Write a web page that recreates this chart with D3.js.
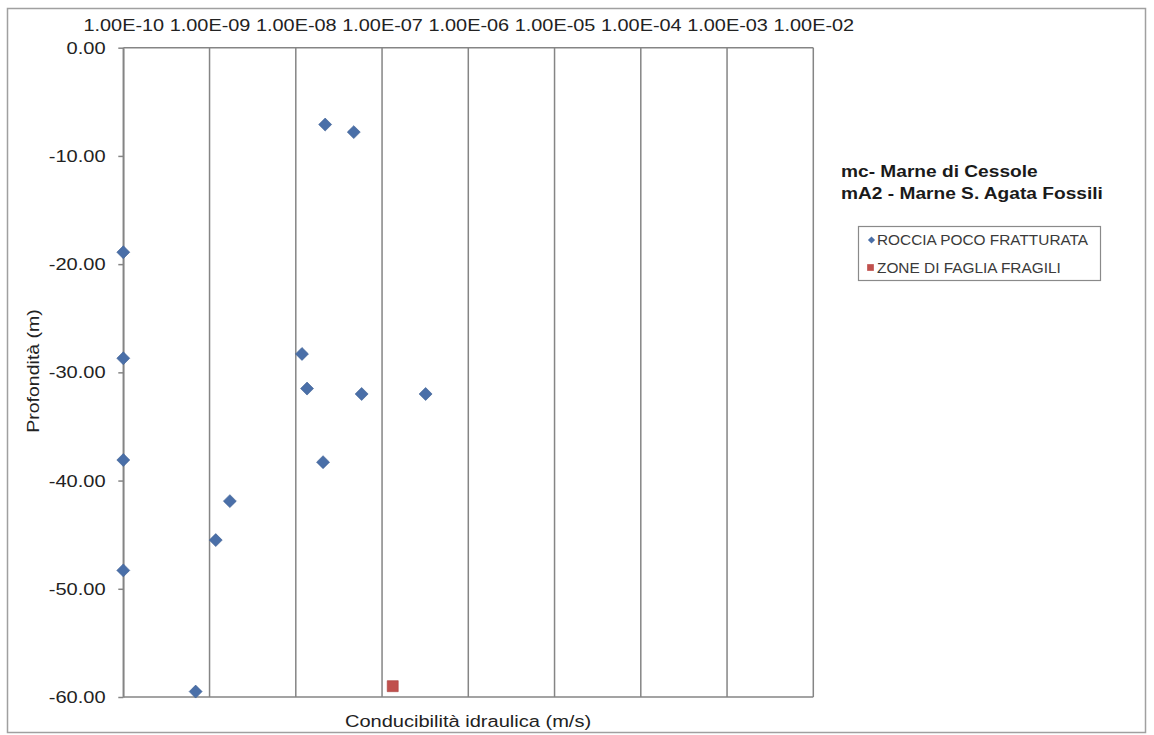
<!DOCTYPE html>
<html>
<head>
<meta charset="utf-8">
<script src="https://cdn.jsdelivr.net/npm/d3@7"></script>
<style>
  html, body { margin: 0; padding: 0; background: #fff; }
  svg { display: block; font-family: "Liberation Sans", Arial, sans-serif; }
</style>
</head>
<body>
<svg id="chart" width="1154" height="735"></svg>
<script>
// Hydraulic conductivity (m/s) vs depth (m)
const rocciaK     = [2.19e-8, 4.7e-8, 1e-10, 1e-10, 1.18e-8, 1.35e-8, 5.8e-8, 3.2e-7, 1e-10, 2.07e-8, 1.72e-9, 1.18e-9, 1e-10, 6.9e-10];
const rocciaDepth = [-7.1, -7.8, -18.9, -28.7, -28.3, -31.5, -32.0, -32.0, -38.1, -38.3, -41.9, -45.5, -48.3, -59.5];
const fagliaK     = [1.33e-7];
const fagliaDepth = [-59.0];

const xTicks = [1e-10, 1e-9, 1e-8, 1e-7, 1e-6, 1e-5, 1e-4, 1e-3, 1e-2];
const yTicks = [0, -10, -20, -30, -40, -50, -60];

const seriesNames = ["ROCCIA POCO FRATTURATA", "ZONE DI FAGLIA FRAGILI"];
const titleLines = ["mc- Marne di Cessole", "mA2 - Marne S. Agata Fossili"];
const xTitle = "Conducibilità idraulica (m/s)";
const yTitle = "Profondità (m)";

const blue = "#4a6fa8", red = "#c0504d", grid = "#858585";

const svg = d3.select("#chart");

// Outer chart frame
svg.append("rect")
  .attr("x", 7.5).attr("y", 8.5).attr("width", 1138).attr("height", 724)
  .attr("fill", "#fff").attr("stroke", "#a0a0a0").attr("stroke-width", 1.5);

const x = d3.scaleLog().domain([1e-10, 1e-2]).range([123.3, 813.3]);
const y = d3.scaleLinear().domain([0, -60]).range([47.7, 697]);

// text helper with horizontal stretch
function stext(parent, px, py, str, size, sx, opts = {}) {
  return parent.append("text")
    .attr("transform", `translate(${px},${py})${opts.rotate ? ` rotate(${opts.rotate})` : ""} scale(${sx},1)`)
    .attr("text-anchor", opts.anchor || "start")
    .attr("font-size", size)
    .attr("font-weight", opts.weight || "normal")
    .attr("fill", opts.fill || "#222")
    .text(str);
}

// Vertical decade gridlines
svg.append("g").selectAll("line").data(xTicks).join("line")
  .attr("x1", d => x(d)).attr("x2", d => x(d))
  .attr("y1", y(0)).attr("y2", y(-60))
  .attr("stroke", grid).attr("stroke-width", 1.5);

// Top and bottom plot borders
[0, -60].forEach(v => {
  svg.append("line")
    .attr("x1", x(1e-10)).attr("x2", x(1e-2))
    .attr("y1", y(v)).attr("y2", y(v))
    .attr("stroke", grid).attr("stroke-width", 1.5);
});

// Top x axis (labels only)
const xAxis = svg.append("g")
  .attr("transform", `translate(0,${y(0)})`)
  .call(d3.axisTop(x).tickValues(xTicks).tickSize(0).tickPadding(17)
    .tickFormat(d => d.toExponential(2).toUpperCase().replace(/E([+-])(\d)$/, "E$10$2").replace("E+", "E")));
xAxis.select(".domain").remove();
xAxis.selectAll("text")
  .attr("font-size", 17).attr("font-family", "Liberation Sans, Arial, sans-serif")
  .attr("fill", "#222").attr("transform", "scale(1.17,1)");

// Left y axis
const yAxis = svg.append("g")
  .attr("transform", `translate(${x(1e-10)},0)`)
  .call(d3.axisLeft(y).tickValues(yTicks).tickSizeInner(5).tickSizeOuter(0).tickPadding(10)
    .tickFormat(d => d3.format(".2f")(d).replace("−", "-")));
yAxis.select(".domain").attr("stroke", grid).attr("stroke-width", 1.5);
yAxis.selectAll(".tick line").attr("stroke", grid).attr("stroke-width", 1.5);
yAxis.selectAll("text")
  .attr("font-size", 17).attr("font-family", "Liberation Sans, Arial, sans-serif")
  .attr("fill", "#222").attr("transform", "scale(1.18,1)");

// Axis titles
stext(svg, 468, 727, xTitle, 17, 1.18, { anchor: "middle" });
stext(svg, 39, 371, yTitle, 17, 1.15, { anchor: "middle", rotate: -90 });

// Data points
const diamond = d3.symbol().type(d3.symbolSquare).size(84);
const roccia = rocciaK.map((k, i) => ({ k, d: rocciaDepth[i] }));
svg.append("g").selectAll("path").data(roccia).join("path")
  .attr("d", diamond)
  .attr("transform", p => `translate(${x(p.k)},${y(p.d)}) rotate(45)`)
  .attr("fill", blue).attr("stroke", "#3d5f93").attr("stroke-width", 0.6);

const faglia = fagliaK.map((k, i) => ({ k, d: fagliaDepth[i] }));
svg.append("g").selectAll("path").data(faglia).join("path")
  .attr("d", d3.symbol().type(d3.symbolSquare).size(121))
  .attr("transform", p => `translate(${x(p.k)},${y(p.d)})`)
  .attr("fill", red).attr("stroke", "#a8403d").attr("stroke-width", 0.6);

// Title block
titleLines.forEach((t, i) => {
  stext(svg, 841, 177 + i * 22, t, 16.5, 1.16, { weight: "bold", fill: "#1a1a1a" });
});

// Legend
const lg = svg.append("g");
lg.append("rect").attr("x", 858.5).attr("y", 226.5).attr("width", 242).attr("height", 54)
  .attr("fill", "#fff").attr("stroke", "#8a8a8a").attr("stroke-width", 1.2);
lg.append("path").attr("d", d3.symbol().type(d3.symbolSquare).size(26))
  .attr("transform", "translate(871.5,240) rotate(45)").attr("fill", blue);
lg.append("path").attr("d", d3.symbol().type(d3.symbolSquare).size(45))
  .attr("transform", "translate(870.5,267.5)").attr("fill", red);
seriesNames.forEach((n, i) => {
  stext(lg, 877, 245 + i * 27.5, n, 14, 1.1, { fill: "#3a3a3a" });
});
</script>
</body>
</html>
